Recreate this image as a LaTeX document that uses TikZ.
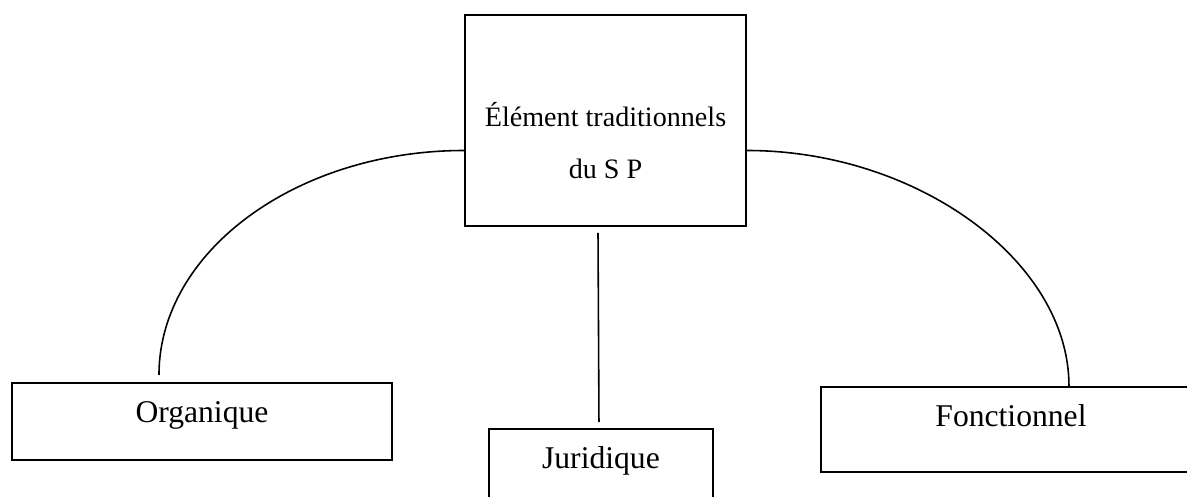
\documentclass[tikz,border=0pt]{standalone}
\usepackage{fontspec}
\setmainfont{Liberation Serif}
\usetikzlibrary{positioning,calc}

\begin{document}
\begin{tikzpicture}[x=1cm, y=1cm,
    topbox/.style={draw, line width=1.1pt, minimum width=5.62cm, minimum height=4.22cm},
    leafbox/.style={draw, line width=1.1pt, inner sep=0pt, anchor=north west,
                    text height=0.8cm, font=\fontsize{18}{22}\selectfont},
    link/.style={line width=0.9pt}]
%
    \useasboundingbox (0,0) rectangle (23.74,-9.94);
%
    \node[topbox] (sp) at (12.11,-2.41) {};
    \node[align=center, font=\fontsize{16}{29.5}\selectfont] (sptext)
        at ([yshift=-0.4cm]sp.center) {Élément traditionnels\\du S P};
%
    \node[leafbox, minimum width=7.6cm, text depth=0.74cm] (org) at (0.22,-7.64) {Organique};
    \node[leafbox, minimum width=4.48cm, text depth=1.2cm] (jur) at (9.76,-8.56) {Juridique};
    \node[leafbox, minimum width=7.6cm, text depth=0.9cm] (fon) at (16.4,-7.72) {Fonctionnel};
%
    \draw[link] ([yshift=-0.6cm]sp.west) .. controls +(-3.35,0) and +(0,2.47) ..
        ([xshift=-0.86cm,yshift=0.14cm]org.north);
    \draw[link] ([yshift=-0.6cm]sp.east) .. controls +(3.4,0) and +(0,2.5) ..
        ([xshift=1.16cm]fon.north);
    \draw[link] ([xshift=-0.15cm,yshift=-0.12cm]sp.south) -- ([xshift=-0.04cm,yshift=0.12cm]jur.north);
\end{tikzpicture}
\end{document}
